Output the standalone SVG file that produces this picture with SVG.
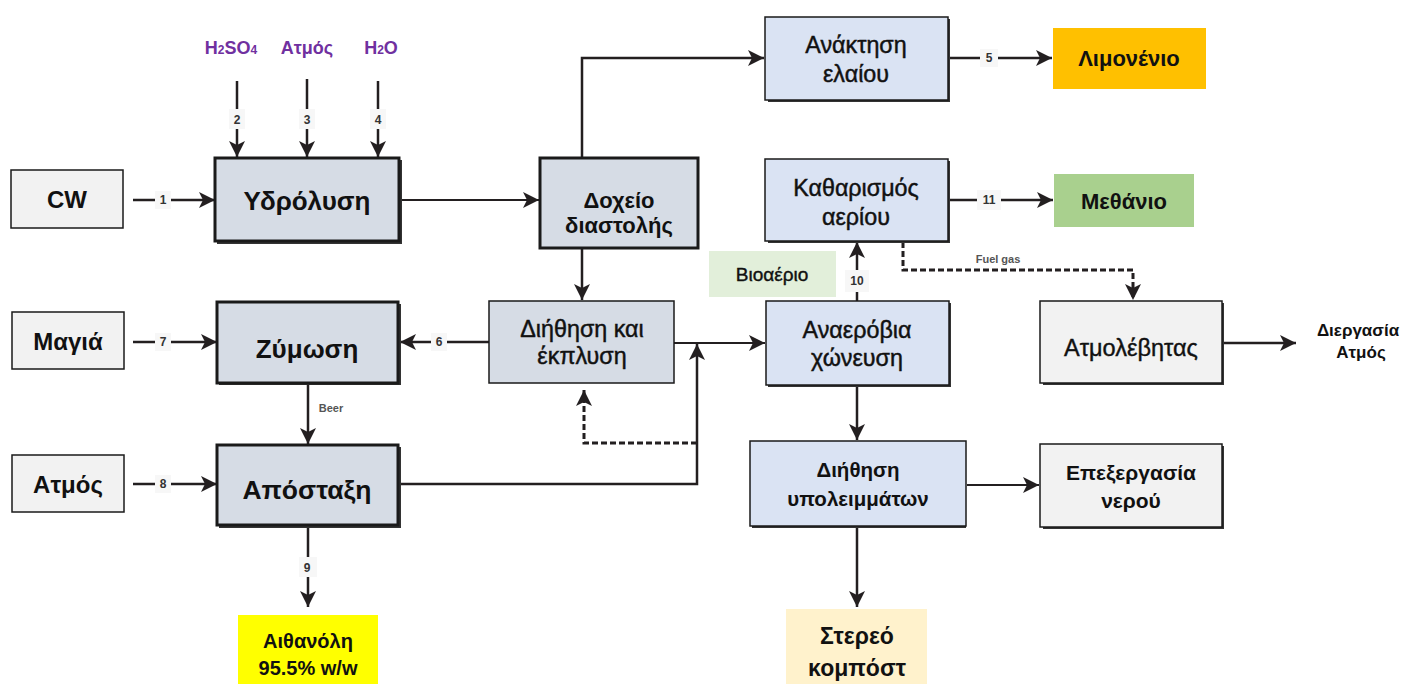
<svg xmlns="http://www.w3.org/2000/svg" width="1404" height="684" viewBox="0 0 1404 684">
  <defs>
    <marker id="arr" viewBox="0 0 10 10" refX="10" refY="5" markerUnits="userSpaceOnUse" markerWidth="16" markerHeight="16" orient="auto">
      <path d="M0,0 L10,5 L0,10 L2.5,5 z" fill="#231f20"/>
    </marker>
    <style>
      text { font-family: "Liberation Sans", Arial, sans-serif; fill: #111; text-anchor: middle; }
      .b { font-weight: bold; }
      .proc { fill: #d6dce5; stroke: #1a1a1a; stroke-width: 3; }
      .proc2 { fill: #d6dce5; stroke: #1a1a1a; stroke-width: 1.5; }
      .blue { fill: #dae3f3; stroke: #1a1a1a; stroke-width: 1.5; }
      .grey { fill: #f2f2f2; stroke: #1a1a1a; stroke-width: 1.5; }
      .shadow { fill: #333; }
      .ln { fill: none; stroke: #231f20; stroke-width: 2.5; }
      .thin { fill: none; stroke: #231f20; stroke-width: 1.8; }
      .dash { fill: none; stroke: #231f20; stroke-width: 3; stroke-dasharray: 6 3; }
      .tag { fill: #f7f7f7; }
      .num { font-size: 12px; font-weight: bold; fill: #333; }
      .note { font-size: 11px; font-weight: bold; fill: #555; }
      .chem { font-size: 18px; font-weight: bold; fill: #7030a0; }
      .sub { font-size: 12px; }
      .unit { font-size: 23.3px; stroke: #111; stroke-width: 0.45; }
      .med { stroke: #111; stroke-width: 0.4; }
    </style>
  </defs>

  <!-- connectors -->
  <g id="connectors">
    <!-- feeds into hydrolysis -->
    <line class="ln" x1="133" y1="200" x2="215" y2="200" marker-end="url(#arr)"/>
    <line class="ln" x1="237" y1="81" x2="237" y2="157" marker-end="url(#arr)"/>
    <line class="ln" x1="307" y1="79" x2="307" y2="157" marker-end="url(#arr)"/>
    <line class="ln" x1="378" y1="81" x2="378" y2="157" marker-end="url(#arr)"/>
    <!-- hydrolysis -> flash tank -->
    <line class="thin" x1="400" y1="200" x2="539" y2="200" marker-end="url(#arr)"/>
    <!-- flash tank -> oil recovery -->
    <polyline class="ln" points="582,158 582,58 764,58" marker-end="url(#arr)"/>
    <!-- flash tank -> filtration -->
    <line class="ln" x1="582" y1="249" x2="582" y2="300" marker-end="url(#arr)"/>
    <!-- oil recovery -> limonene -->
    <line class="ln" x1="950" y1="58" x2="1052" y2="58" marker-end="url(#arr)"/>
    <!-- gas cleaning -> methane -->
    <line class="ln" x1="950" y1="200" x2="1053" y2="200" marker-end="url(#arr)"/>
    <!-- filtration -> fermentation -->
    <line class="ln" x1="489" y1="342" x2="400" y2="342" marker-end="url(#arr)"/>
    <!-- filtration -> digestion -->
    <line class="thin" x1="674" y1="343" x2="765" y2="343" marker-end="url(#arr)"/>
    <!-- yeast, steam -->
    <line class="ln" x1="133" y1="342" x2="217" y2="342" marker-end="url(#arr)"/>
    <line class="ln" x1="133" y1="484" x2="217" y2="484" marker-end="url(#arr)"/>
    <!-- beer -->
    <line class="ln" x1="308" y1="384" x2="308" y2="444" marker-end="url(#arr)"/>
    <!-- stillage back to digestion line -->
    <polyline class="ln" points="398,484 697,484 697,344" marker-end="url(#arr)"/>
    <!-- wash recycle (dashed) -->
    <polyline class="dash" points="697,443 584,443 584,390" marker-end="url(#arr)"/>
    <!-- ethanol -->
    <line class="ln" x1="308" y1="526" x2="308" y2="607" marker-end="url(#arr)"/>
    <!-- biogas -->
    <line class="ln" x1="857" y1="301" x2="857" y2="242" marker-end="url(#arr)"/>
    <!-- fuel gas (dashed) -->
    <polyline class="dash" points="903,242 903,270 1133,270 1133,300" marker-end="url(#arr)"/>
    <!-- digestion -> residue filtration -->
    <line class="ln" x1="857" y1="386" x2="857" y2="440" marker-end="url(#arr)"/>
    <!-- residue filtration -> water treatment -->
    <line class="thin" x1="967" y1="485" x2="1039" y2="485" marker-end="url(#arr)"/>
    <!-- residue filtration -> compost -->
    <line class="ln" x1="857" y1="527" x2="857" y2="607" marker-end="url(#arr)"/>
    <!-- boiler -> process steam -->
    <line class="ln" x1="1224" y1="343" x2="1296" y2="343" marker-end="url(#arr)"/>

    <!-- stream numbers -->
    <rect class="tag" x="155" y="191" width="16" height="18"/><text class="num" x="163" y="204">1</text>
    <rect class="tag" x="229" y="109" width="16" height="20"/><text class="num" x="237" y="124">2</text>
    <rect class="tag" x="299" y="109" width="16" height="20"/><text class="num" x="307" y="124">3</text>
    <rect class="tag" x="370" y="109" width="16" height="20"/><text class="num" x="378" y="124">4</text>
    <rect class="tag" x="980" y="49" width="18" height="18"/><text class="num" x="989" y="62">5</text>
    <rect class="tag" x="431" y="333" width="16" height="18"/><text class="num" x="439" y="346">6</text>
    <rect class="tag" x="155" y="333" width="16" height="18"/><text class="num" x="163" y="346">7</text>
    <rect class="tag" x="155" y="475" width="16" height="18"/><text class="num" x="163" y="488">8</text>
    <rect class="tag" x="299" y="557" width="18" height="20"/><text class="num" x="307" y="572">9</text>
    <rect class="tag" x="845" y="270" width="24" height="22"/><text class="num" x="857" y="285">10</text>
    <rect class="tag" x="977" y="190" width="24" height="20"/><text class="num" x="989" y="204">11</text>

    <text class="note" x="331" y="412">Beer</text>
    <text class="note" x="998" y="263">Fuel gas</text>
  </g>

  <!-- chemical inputs -->
  <g id="inputs">
    <text class="chem" x="231" y="54">H<tspan class="sub">2</tspan>SO<tspan class="sub">4</tspan></text>
    <text class="chem" x="307" y="54">Ατμός</text>
    <text class="chem" x="381" y="54">H<tspan class="sub">2</tspan>O</text>
  </g>

  <g id="cw">
    <rect class="grey" x="11" y="170" width="112" height="58"/>
    <text class="b" x="67" y="208" font-size="24">CW</text>
  </g>
  <g id="yeast">
    <rect class="grey" x="12" y="312" width="112" height="57"/>
    <text class="b" x="68" y="350" font-size="24">Μαγιά</text>
  </g>
  <g id="steam">
    <rect class="grey" x="12" y="455" width="112" height="57"/>
    <text class="b" x="68" y="493" font-size="24">Ατμός</text>
  </g>

  <g id="hydrolysis">
    <rect class="shadow" x="217" y="160" width="185" height="84"/>
    <rect class="proc" x="215" y="158" width="184" height="83"/>
    <text class="b" x="307" y="210" font-size="26">Υδρόλυση</text>
  </g>
  <g id="fermentation">
    <rect class="shadow" x="219" y="304" width="182" height="81"/>
    <rect class="proc" x="217" y="302" width="181" height="81"/>
    <text class="b" x="307" y="358" font-size="26">Ζύμωση</text>
  </g>
  <g id="distillation">
    <rect class="shadow" x="219" y="447" width="182" height="81"/>
    <rect class="proc" x="217" y="445" width="181" height="80"/>
    <text class="b" x="307" y="499" font-size="26.5">Απόσταξη</text>
  </g>
  <g id="flash-tank">
    <rect class="proc" x="540" y="158" width="158" height="90"/>
    <text class="b" x="619" y="208" font-size="22">Δοχείο</text>
    <text class="b" x="619" y="233" font-size="22">διαστολής</text>
  </g>
  <g id="filtration-wash">
    <rect class="proc2" x="489" y="301" width="185" height="82"/>
    <text class="unit" x="582" y="337">Διήθηση και</text>
    <text class="unit" x="582" y="364">έκπλυση</text>
  </g>

  <g id="oil-recovery">
    <rect class="shadow" x="768" y="19" width="182" height="83"/>
    <rect class="blue" x="765" y="17" width="183" height="83"/>
    <text class="unit" x="856" y="53">Ανάκτηση</text>
    <text class="unit" x="856" y="82">ελαίου</text>
  </g>
  <g id="limonene">
    <rect x="1053" y="28" width="153" height="61" fill="#ffc000"/>
    <text class="b" x="1129" y="66" font-size="22">Λιμονένιο</text>
  </g>
  <g id="gas-cleaning">
    <rect class="shadow" x="768" y="161" width="182" height="82"/>
    <rect class="blue" x="765" y="159" width="183" height="82"/>
    <text class="unit" x="856" y="196">Καθαρισμός</text>
    <text class="unit" x="856" y="225">αερίου</text>
  </g>
  <g id="methane">
    <rect x="1054" y="174" width="140" height="53" fill="#a9d08e"/>
    <text class="b" x="1124" y="209" font-size="22">Μεθάνιο</text>
  </g>
  <g id="biogas">
    <rect x="709" y="251" width="127" height="46" fill="#e2efda"/>
    <text class="med" x="772" y="281" font-size="19">Βιοαέριο</text>
  </g>
  <g id="digestion">
    <rect class="shadow" x="768" y="303" width="183" height="84"/>
    <rect class="blue" x="766" y="301" width="183" height="84"/>
    <text class="unit" x="857" y="338">Αναερόβια</text>
    <text class="unit" x="857" y="366">χώνευση</text>
  </g>
  <g id="boiler">
    <rect class="shadow" x="1043" y="303" width="181" height="82"/>
    <rect class="grey" x="1040" y="301" width="182" height="82" fill="#efefef"/>
    <text class="med" x="1131" y="356" font-size="23.5">Ατμολέβητας</text>
  </g>
  <g id="process-steam">
    <text class="b" x="1358" y="336" font-size="17">Διεργασία</text>
    <text class="b" x="1361" y="358" font-size="17">Ατμός</text>
  </g>
  <g id="residue-filtration">
    <rect class="shadow" x="752" y="443" width="214" height="85"/>
    <rect class="blue" x="750" y="441" width="216" height="85"/>
    <text class="b" x="858" y="477" font-size="20.5">Διήθηση</text>
    <text class="b" x="858" y="506" font-size="20.5">υπολειμμάτων</text>
  </g>
  <g id="water-treatment">
    <rect class="shadow" x="1043" y="446" width="181" height="83"/>
    <rect class="grey" x="1040" y="444" width="182" height="83" fill="#ebebeb"/>
    <text class="b" x="1131" y="480" font-size="21">Επεξεργασία</text>
    <text class="b" x="1131" y="508" font-size="21">νερού</text>
  </g>
  <g id="compost">
    <rect x="786" y="609" width="141" height="75" fill="#fff2cc"/>
    <text class="b" x="857" y="644" font-size="23">Στερεό</text>
    <text class="b" x="857" y="676" font-size="23">κομπόστ</text>
  </g>
  <g id="ethanol">
    <rect x="238" y="615" width="140" height="69" fill="#ffff00"/>
    <text class="b" x="308" y="648" font-size="20">Αιθανόλη</text>
    <text class="b" x="308" y="675" font-size="20">95.5% w/w</text>
  </g>
</svg>
